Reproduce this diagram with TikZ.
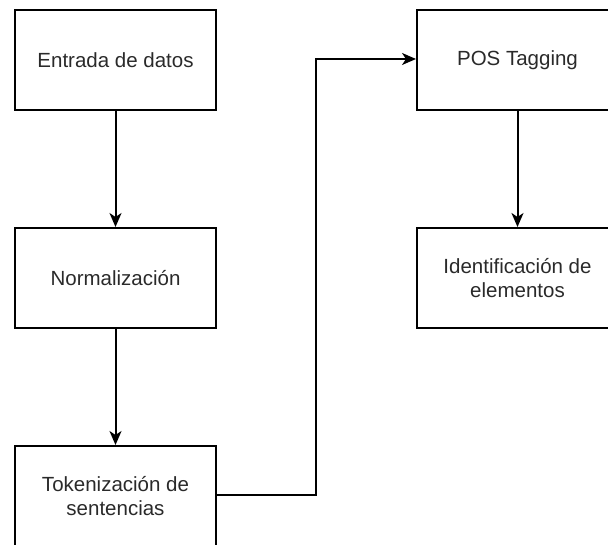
\documentclass[tikz,border=0pt]{standalone}
\usepackage{fontspec}
\setmainfont{Liberation Sans}
\usetikzlibrary{arrows.meta}
\definecolor{txt}{HTML}{2A2A2A}
\begin{document}
\begin{tikzpicture}[x=1pt,y=-1pt,
  box/.style={draw=black,line width=2pt,minimum width=201pt,minimum height=100pt,inner sep=0pt,
    align=center,text=txt,font=\fontsize{20.5}{24}\selectfont,anchor=north west},
  conn/.style={draw=black,line width=2pt,-{Stealth[length=14pt,width=12pt,inset=4pt]}}]
\useasboundingbox (0,0) rectangle (608,545);
\begin{scope}
\clip (0,0) rectangle (608,545);
\node[box] (a) at (14,9) {Entrada de datos};
\node[box] (b) at (14,227) {Normalización};
\node[box] (c) at (14,445) {Tokenización de\\sentencias};
\node[box] (d) at (416,9) {POS Tagging};
\node[box] (e) at (416,227) {Identificación de\\elementos};
\coordinate (k1) at (316,495);
\coordinate (k2) at (316,59);
\draw[conn] (a) -- (b);
\draw[conn] (b) -- (c);
\draw[conn] (c.east |- k1) -- (k1) -- (k2) -- (d.west |- k2);
\draw[conn] (d) -- (e);
\end{scope}
\end{tikzpicture}
\end{document}
